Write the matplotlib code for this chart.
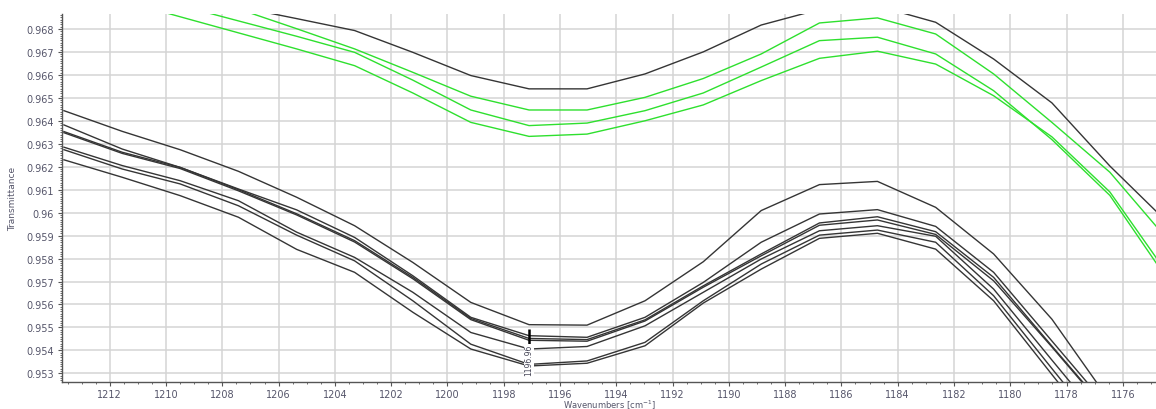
import numpy as np
import matplotlib.pyplot as plt
from matplotlib.ticker import MultipleLocator

nan = np.nan

# wavenumbers of the data points (cm-1)
wavenumber = [1213.63, 1211.56, 1209.50, 1207.43, 1205.36, 1203.30, 1201.23,
              1199.17, 1197.10, 1195.04, 1192.98, 1190.91, 1188.85, 1186.78,
              1184.72, 1182.65, 1180.59, 1178.52, 1176.46, 1174.39]

# upper group (one black, three green spectra)
upper_black = [nan, nan, nan, 0.96896, 0.96845, 0.96793, 0.96698, 0.96597,
               0.96539, 0.96539, 0.96604, 0.96700, 0.96817, 0.96885, 0.96900,
               0.96829, 0.96669, 0.96478, 0.96203, 0.95955]
green_1 = [nan, nan, nan, 0.96887, 0.96801, 0.96713, 0.96611, 0.96507,
           0.96447, 0.96447, 0.96502, 0.96584, 0.96691, 0.96826, 0.96848,
           0.96778, 0.96604, 0.96393, 0.96176, 0.95880]
green_2 = [nan, nan, 0.96902, 0.96835, 0.96768, 0.96698, 0.96577, 0.96447,
           0.96379, 0.96390, 0.96444, 0.96521, 0.96634, 0.96749, 0.96764,
           0.96691, 0.96531, 0.96318, 0.96075, 0.95705]
green_3 = [nan, 0.96923, 0.96853, 0.96783, 0.96713, 0.96640, 0.96521, 0.96393,
           0.96332, 0.96342, 0.96400, 0.96469, 0.96575, 0.96672, 0.96703,
           0.96647, 0.96509, 0.96330, 0.96090, 0.95730]

# lower group (seven black spectra)
lower_a = [0.96444, 0.96354, 0.96274, 0.96180, 0.96067, 0.95943, 0.95783,
           0.95609, 0.95512, 0.95510, 0.95616, 0.95786, 0.96009, 0.96122,
           0.96136, 0.96023, 0.95820, 0.95536, 0.95179, 0.94780]
lower_b = [0.96382, 0.96277, 0.96197, 0.96103, 0.96012, 0.95892, 0.95725,
           0.95544, 0.95464, 0.95457, 0.95544, 0.95696, 0.95871, 0.95994,
           0.96013, 0.95940, 0.95740, 0.95441, 0.95144, 0.94800]
lower_c = [0.96353, 0.96263, 0.96197, 0.96100, 0.95995, 0.95878, 0.95718,
           0.95539, 0.95452, 0.95447, 0.95533, 0.95681, 0.95820, 0.95955,
           0.95982, 0.95917, 0.95718, 0.95419, 0.95125, 0.94790]
lower_d = [0.96348, 0.96258, 0.96192, 0.96095, 0.95990, 0.95872, 0.95712,
           0.95534, 0.95444, 0.95440, 0.95528, 0.95675, 0.95812, 0.95945,
           0.95968, 0.95905, 0.95703, 0.95415, 0.95120, 0.94785]
lower_e = [0.96285, 0.96205, 0.96139, 0.96052, 0.95915, 0.95805, 0.95653,
           0.95478, 0.95406, 0.95417, 0.95507, 0.95653, 0.95798, 0.95921,
           0.95943, 0.95897, 0.95667, 0.95358, 0.95053, 0.94700]
lower_f = [0.96274, 0.96190, 0.96125, 0.96030, 0.95902, 0.95790, 0.95616,
           0.95427, 0.95339, 0.95354, 0.95435, 0.95616, 0.95776, 0.95902,
           0.95924, 0.95871, 0.95638, 0.95321, 0.95009, 0.94650]
lower_g = [0.96230, 0.96154, 0.96074, 0.95980, 0.95840, 0.95740, 0.95566,
           0.95406, 0.95332, 0.95344, 0.95420, 0.95606, 0.95754, 0.95888,
           0.95910, 0.95841, 0.95616, 0.95295, 0.94979, 0.94620]

# cursor marker
cursor_x = 1197.10
cursor_text = "1196.96"

fig = plt.figure(figsize=(11.56, 4.10), dpi=100)
ax = fig.add_axes([0.0536, 0.0651, 0.9464, 0.8983])

grey = "#353535"
lime = "#2ee02e"

for y in [lower_a, lower_b, lower_c, lower_d, lower_e, lower_f, lower_g]:
    ax.plot(wavenumber, y, color=grey, lw=1.0)
ax.plot(wavenumber, upper_black, color=grey, lw=1.0)
for y in [green_1, green_2, green_3]:
    ax.plot(wavenumber, y, color=lime, lw=1.0)

# cursor line + label
ax.vlines(cursor_x, 0.95398, 0.95492, color="black", lw=1.8, zorder=5)
ax.text(cursor_x, 0.95360, cursor_text, rotation=90, fontsize=5.5,
        ha="center", va="center", color="#444455", zorder=6,
        bbox=dict(fc="white", ec="none", pad=0.3))

ax.set_xlim(1213.70, 1174.82)
ax.set_ylim(0.95261, 0.96865)

ax.xaxis.set_major_locator(MultipleLocator(2))
ax.xaxis.set_minor_locator(MultipleLocator(0.5))
ax.yaxis.set_major_locator(MultipleLocator(0.001))
ax.yaxis.set_minor_locator(MultipleLocator(0.0001))
ax.yaxis.set_major_formatter(plt.FuncFormatter(lambda v, p: ("%.3f" % v).rstrip("0")))

ax.grid(True, which="major", color="#d4d4d4", lw=1.1)
ax.set_axisbelow(True)

for s in ["top", "right"]:
    ax.spines[s].set_visible(False)
for s in ["left", "bottom"]:
    ax.spines[s].set_color("#555555")
    ax.spines[s].set_linewidth(1.0)

ax.tick_params(which="major", length=3, width=0.8, color="#555555",
               labelsize=7, labelcolor="#55556a", pad=3)
ax.tick_params(axis="x", which="major", pad=2)
ax.tick_params(which="minor", length=1.5, width=0.6, color="#555555")

ax.set_ylabel("Transmittance", fontsize=6.5, color="#55556a", labelpad=6)
ax.set_xlabel("Wavenumbers [cm$^{-1}$]", fontsize=6, color="#55556a")
ax.xaxis.set_label_coords(0.5, -0.042)

fig.savefig("out.png", dpi=100)
